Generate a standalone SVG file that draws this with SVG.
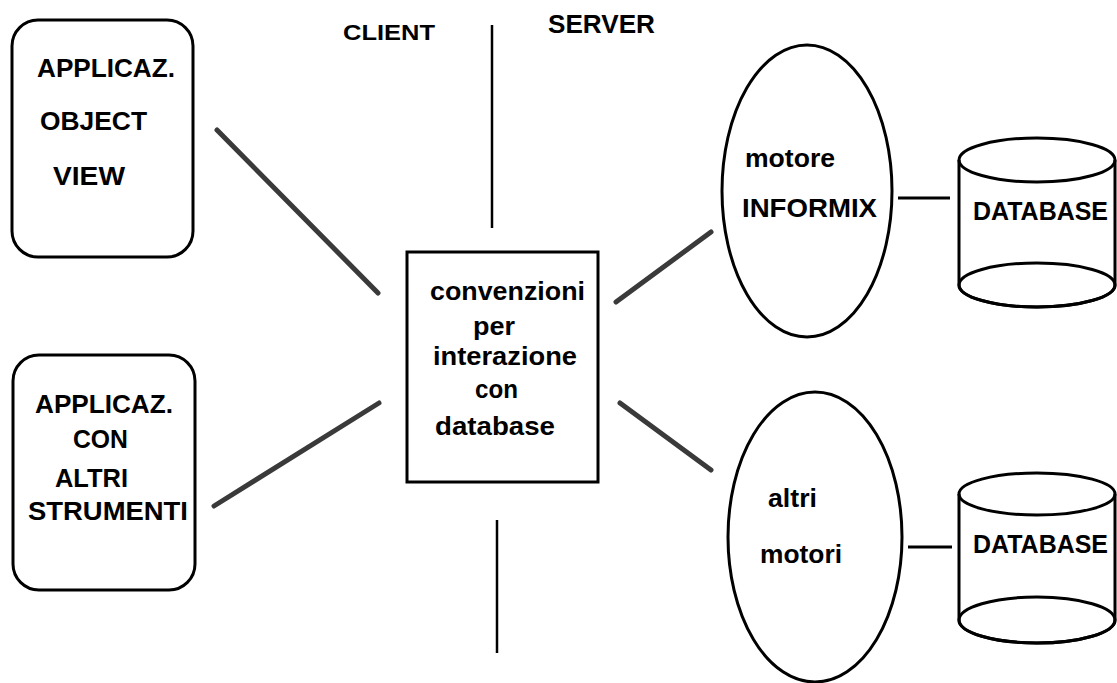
<svg xmlns="http://www.w3.org/2000/svg" width="1117" height="683" viewBox="0 0 1117 683">
<style>
.t{font-family:"Liberation Sans",Arial,sans-serif;font-weight:bold;font-size:26px;fill:#000}
.shape{fill:none;stroke:#000;stroke-width:3}
.conn{stroke:#3a3a3a;stroke-width:5;stroke-linecap:round}
.thin{stroke:#000;stroke-width:3}
.div{stroke:#000;stroke-width:2.5}
</style>
<rect width="1117" height="683" fill="#fff"/>
<g id="labels">
<text class="t" x="343" y="40" style="font-size:22px" textLength="92" lengthAdjust="spacingAndGlyphs">CLIENT</text>
<text class="t" x="548" y="33" style="font-size:25px" textLength="107" lengthAdjust="spacingAndGlyphs">SERVER</text>
</g>
<g id="divider">
<line class="div" x1="492" y1="25" x2="492" y2="228"/>
<line class="div" x1="497" y1="520" x2="497" y2="653"/>
</g>
<g id="connectors">
<line class="conn" x1="217" y1="130" x2="378" y2="293"/>
<line class="conn" x1="214" y1="506" x2="379" y2="403"/>
<line class="conn" x1="616" y1="302" x2="711" y2="232"/>
<line class="conn" x1="620" y1="403" x2="711" y2="470"/>
<line class="thin" x1="898" y1="198" x2="950" y2="198"/>
<line class="thin" x1="908" y1="547" x2="952" y2="547"/>
</g>
<g id="app-object-view">
<rect class="shape" x="12" y="20" width="181" height="237" rx="26"/>
<text class="t" x="37" y="77" textLength="138" lengthAdjust="spacingAndGlyphs">APPLICAZ.</text>
<text class="t" x="40" y="130" textLength="107" lengthAdjust="spacingAndGlyphs">OBJECT</text>
<text class="t" x="53" y="185" textLength="72" lengthAdjust="spacingAndGlyphs">VIEW</text>
</g>
<g id="app-altri-strumenti">
<rect class="shape" x="13" y="355" width="182" height="235" rx="26"/>
<text class="t" x="35" y="413" textLength="138" lengthAdjust="spacingAndGlyphs">APPLICAZ.</text>
<text class="t" x="73" y="448" textLength="55" lengthAdjust="spacingAndGlyphs">CON</text>
<text class="t" x="55" y="487" textLength="73" lengthAdjust="spacingAndGlyphs">ALTRI</text>
<text class="t" x="28" y="520" textLength="160" lengthAdjust="spacingAndGlyphs">STRUMENTI</text>
</g>
<g id="convenzioni">
<rect class="shape" x="407" y="252" width="191" height="230"/>
<text class="t" x="430" y="300" textLength="155" lengthAdjust="spacingAndGlyphs">convenzioni</text>
<text class="t" x="473" y="335" textLength="42" lengthAdjust="spacingAndGlyphs">per</text>
<text class="t" x="433" y="365" textLength="144" lengthAdjust="spacingAndGlyphs">interazione</text>
<text class="t" x="475" y="398" textLength="43" lengthAdjust="spacingAndGlyphs">con</text>
<text class="t" x="435" y="435" textLength="120" lengthAdjust="spacingAndGlyphs">database</text>
</g>
<g id="motore-informix">
<ellipse class="shape" cx="807" cy="191" rx="85" ry="146"/>
<text class="t" x="745" y="167" textLength="90" lengthAdjust="spacingAndGlyphs">motore</text>
<text class="t" x="742" y="217" textLength="135" lengthAdjust="spacingAndGlyphs">INFORMIX</text>
</g>
<g id="altri-motori">
<ellipse class="shape" cx="815" cy="537" rx="87" ry="145"/>
<text class="t" x="768" y="507" textLength="49" lengthAdjust="spacingAndGlyphs">altri</text>
<text class="t" x="760" y="563" textLength="82" lengthAdjust="spacingAndGlyphs">motori</text>
</g>
<g id="database-1">
<path class="shape" d="M959 160 L959 285 A78 22 0 0 0 1115 285 L1115 160"/>
<ellipse class="shape" cx="1037" cy="160" rx="78" ry="22"/>
<ellipse class="shape" cx="1037" cy="285" rx="78" ry="22"/>
<text class="t" x="973" y="220" textLength="135" lengthAdjust="spacingAndGlyphs">DATABASE</text>
</g>
<g id="database-2">
<path class="shape" d="M959 494 L959 620 A78 23 0 0 0 1115 620 L1115 494"/>
<ellipse class="shape" cx="1037" cy="494" rx="78" ry="21"/>
<ellipse class="shape" cx="1037" cy="620" rx="78" ry="23"/>
<text class="t" x="973" y="553" textLength="135" lengthAdjust="spacingAndGlyphs">DATABASE</text>
</g>
</svg>
